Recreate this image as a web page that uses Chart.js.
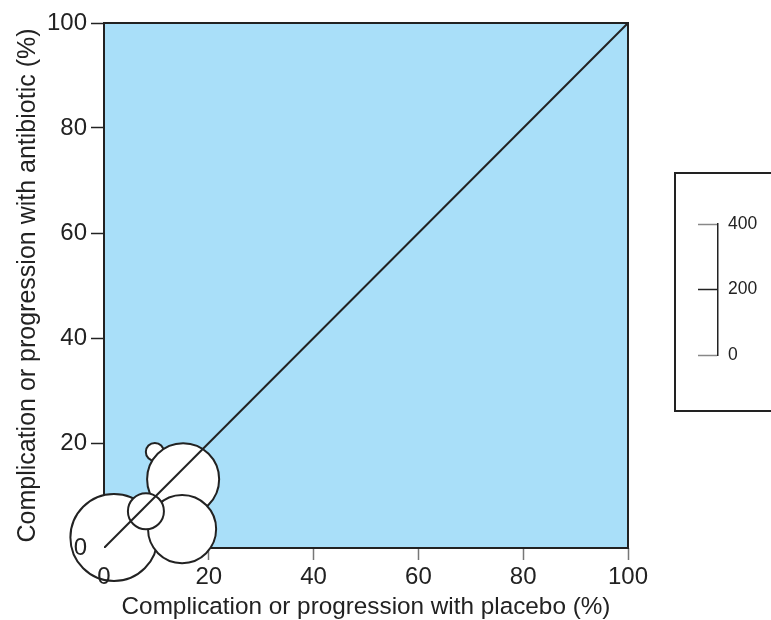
<!DOCTYPE html>
<html>
<head>
<meta charset="utf-8">
<script src="https://cdn.jsdelivr.net/npm/chart.js@4.4.0/dist/chart.umd.min.js"></script>
<style>
  html, body { margin: 0; padding: 0; background: #fff; overflow: hidden; }
  #wrap { position: relative; width: 771px; height: 620px; }
  #main { position: absolute; left: 0; top: 0; }
  #legendBox { position: absolute; left: 674px; top: 172px; width: 130px; height: 236px; border: 2px solid #222; }
  #legend { position: absolute; left: 0; top: 0; }
</style>
</head>
<body>
<div id="wrap">
  <canvas id="main" width="771" height="620"></canvas>
  <div id="legendBox"><canvas id="legend" width="97" height="236"></canvas></div>
</div>
<script>
// trials: event rate with placebo (x) vs antibiotic (y), bubble size = patients
const placebo = [9.7, 15.1, 1.9, 14.9, 8.0];
const antibiotic = [18.3, 13.1, 2.0, 3.6, 7.0];
const patients = [55, 220, 266, 208, 110];

const axisTicks = [0, 20, 40, 60, 80, 100];
const sizeTicks = [0, 200, 400];

const FONT = "'Liberation Sans', Arial, sans-serif";
const INK = "#222";

// Size key (drawn first so the bubbles can use its scale)
const legendChart = new Chart(document.getElementById("legend"), {
  type: "scatter",
  data: { datasets: [] },
  options: {
    responsive: false,
    animation: false,
    events: [],
    layout: { padding: { left: 0, top: 50, right: 0, bottom: 55 }, autoPadding: false },
    plugins: { legend: { display: false }, tooltip: { enabled: false } },
    scales: {
      x: { display: false, min: 0, max: 1 },
      y: {
        position: "left",
        min: sizeTicks[0],
        max: sizeTicks[sizeTicks.length - 1],
        afterFit: (s) => { s.width = 42; },
        afterBuildTicks: (s) => { s.ticks = sizeTicks.map((v) => ({ value: v })); },
        grid: {
          drawOnChartArea: false,
          tickLength: 20,
          tickWidth: 1.5,
          tickColor: (ctx) => (ctx.tick && ctx.tick.value === 200 ? INK : "#888"),
        },
        border: { display: true, color: INK, width: 1.5 },
        ticks: { mirror: true, padding: 10, color: INK, font: { family: FONT, size: 17.5 } },
      },
      yMinor: {
        position: "left",
        min: sizeTicks[0],
        max: sizeTicks[sizeTicks.length - 1],
        afterFit: (s) => { s.width = 0; },
        grid: { drawOnChartArea: false, tickLength: 3, tickWidth: 1.2, tickColor: INK },
        border: { display: false },
        ticks: { display: false, stepSize: 50 },
      },
    },
  },
});

function bubbleRadius(n) {
  const s = legendChart.scales.y;
  return (s.getPixelForValue(0) - s.getPixelForValue(n)) / 2;
}

const bubbles = placebo.map((x, i) => ({ x: x, y: antibiotic[i], r: bubbleRadius(patients[i]) }));

const plotFrame = {
  id: "plotFrame",
  beforeDatasetsDraw(chart) {
    const { ctx, chartArea: a } = chart;
    ctx.save();
    ctx.fillStyle = "#a9dff9";
    ctx.fillRect(a.left, a.top, a.right - a.left, a.bottom - a.top);
    ctx.strokeStyle = INK;
    ctx.lineWidth = 2;
    ctx.strokeRect(a.left, a.top, a.right - a.left, a.bottom - a.top);
    ctx.restore();
  },
};

new Chart(document.getElementById("main"), {
  type: "bubble",
  data: {
    datasets: [
      {
        type: "line",
        label: "Line of equality",
        data: [{ x: 0, y: 0 }, { x: 100, y: 100 }],
        borderColor: INK,
        borderWidth: 2,
        pointRadius: 0,
        order: 0,
      },
      {
        label: "Trials",
        data: bubbles,
        backgroundColor: "#fff",
        borderColor: INK,
        borderWidth: 2,
        clip: false,
        order: 1,
      },
    ],
  },
  options: {
    responsive: false,
    animation: false,
    events: [],
    layout: { padding: { left: 0, top: 23, right: 143, bottom: 0 }, autoPadding: false },
    plugins: { legend: { display: false }, tooltip: { enabled: false } },
    scales: {
      x: {
        type: "linear",
        min: 0,
        max: 100,
        afterFit: (s) => { s.height = 72; },
        afterBuildTicks: (s) => { s.ticks = axisTicks.map((v) => ({ value: v })); },
        grid: {
          drawOnChartArea: false,
          tickLength: 12,
          tickWidth: 1.5,
          tickColor: (ctx) => (ctx.tick && ctx.tick.value === 0 ? "rgba(0,0,0,0)" : "#777"),
        },
        border: { display: false },
        ticks: { z: 1, padding: 3, color: INK, font: { family: FONT, size: 24 } },
        title: {
          display: true,
          text: "Complication or progression with placebo (%)",
          color: INK,
          font: { family: FONT, size: 24.3 },
          padding: { top: 0, bottom: -2 },
        },
      },
      y: {
        type: "linear",
        min: 0,
        max: 100,
        afterFit: (s) => { s.width = 104; },
        afterBuildTicks: (s) => { s.ticks = axisTicks.map((v) => ({ value: v })); },
        grid: {
          drawOnChartArea: false,
          tickLength: 13,
          tickWidth: 1.5,
          tickColor: (ctx) => (ctx.tick && ctx.tick.value === 0 ? "rgba(0,0,0,0)" : INK),
        },
        border: { display: false },
        ticks: { z: 1, padding: 4, color: INK, font: { family: FONT, size: 24 } },
        title: {
          display: true,
          text: "Complication or progression with antibiotic (%)",
          color: INK,
          font: { family: FONT, size: 25 },
          padding: { top: 13, bottom: 0 },
        },
      },
    },
  },
  plugins: [plotFrame],
});
</script>
</body>
</html>
